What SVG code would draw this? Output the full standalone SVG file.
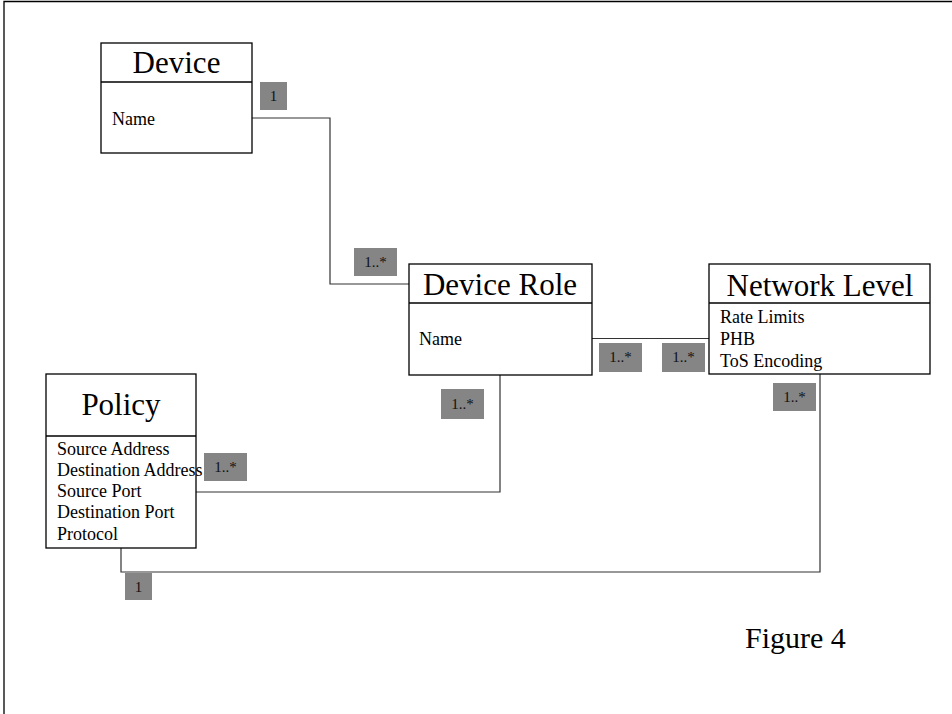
<svg xmlns="http://www.w3.org/2000/svg" width="952" height="714" viewBox="0 0 952 714">
<style>
.box{fill:#fff;stroke:#000;stroke-width:1.3}
.div{stroke:#000;stroke-width:1.3}
.title{font-family:"Liberation Serif",serif;font-size:31px;fill:#000;text-anchor:middle}
.attr{font-family:"Liberation Serif",serif;font-size:18px;fill:#000}
.conn{fill:none;stroke:#333;stroke-width:1.2}
.lbl rect{fill:#858585}
.lbl text{font-family:"Liberation Serif",serif;font-size:15px;fill:#111;text-anchor:middle}
</style>
<rect width="952" height="714" fill="#fff"/>
<path d="M4 714 V1.5 H952" fill="none" stroke="#000" stroke-width="1.3"/>
<g id="connectors">
<path class="conn" d="M252 118 H330 V284 H409"/>
<path class="conn" d="M592 338.5 H709"/>
<path class="conn" d="M196 492 H500 V375"/>
<path class="conn" d="M820 374 V572 H121 V548"/>
</g>
<g id="device">
<rect class="box" x="101" y="43" width="151" height="110"/>
<line class="div" x1="101" y1="82" x2="252" y2="82"/>
<text class="title" x="176.5" y="73">Device</text>
<text class="attr" x="112" y="125">Name</text>
</g>
<g id="device-role">
<rect class="box" x="409" y="264" width="183" height="111"/>
<line class="div" x1="409" y1="303" x2="592" y2="303"/>
<text class="title" x="500" y="295">Device Role</text>
<text class="attr" x="419" y="345">Name</text>
</g>
<g id="network-level">
<rect class="box" x="709" y="264" width="221" height="110"/>
<line class="div" x1="709" y1="303" x2="930" y2="303"/>
<text class="title" x="820" y="296">Network Level</text>
<text class="attr" x="720" y="323">Rate Limits</text>
<text class="attr" x="720" y="345">PHB</text>
<text class="attr" x="720" y="367">ToS Encoding</text>
</g>
<g id="policy">
<rect class="box" x="46" y="374" width="150" height="174"/>
<line class="div" x1="46" y1="436" x2="196" y2="436"/>
<text class="title" x="121" y="415">Policy</text>
<text class="attr" x="57" y="455">Source Address</text>
<text class="attr" x="57" y="476">Destination Address</text>
<text class="attr" x="57" y="497">Source Port</text>
<text class="attr" x="57" y="518">Destination Port</text>
<text class="attr" x="57" y="540">Protocol</text>
</g>
<g id="labels">
<g class="lbl"><rect x="260" y="82" width="27" height="28"/><text x="273.5" y="101">1</text></g>
<g class="lbl"><rect x="354" y="248" width="43" height="28"/><text x="375.5" y="267">1..*</text></g>
<g class="lbl"><rect x="599" y="343" width="43" height="29"/><text x="620.5" y="362">1..*</text></g>
<g class="lbl"><rect x="662" y="343" width="43" height="29"/><text x="683.5" y="362">1..*</text></g>
<g class="lbl"><rect x="773" y="383" width="43" height="28"/><text x="794.5" y="402">1..*</text></g>
<g class="lbl"><rect x="441" y="389" width="43" height="30"/><text x="462.5" y="409">1..*</text></g>
<g class="lbl"><rect x="204" y="453" width="43" height="28"/><text x="225.5" y="472">1..*</text></g>
<g class="lbl"><rect x="125" y="573" width="27" height="27"/><text x="138.5" y="592">1</text></g>
</g>
<text x="745" y="648" style="font-family:'Liberation Serif',serif;font-size:30px;fill:#000">Figure 4</text>
</svg>
